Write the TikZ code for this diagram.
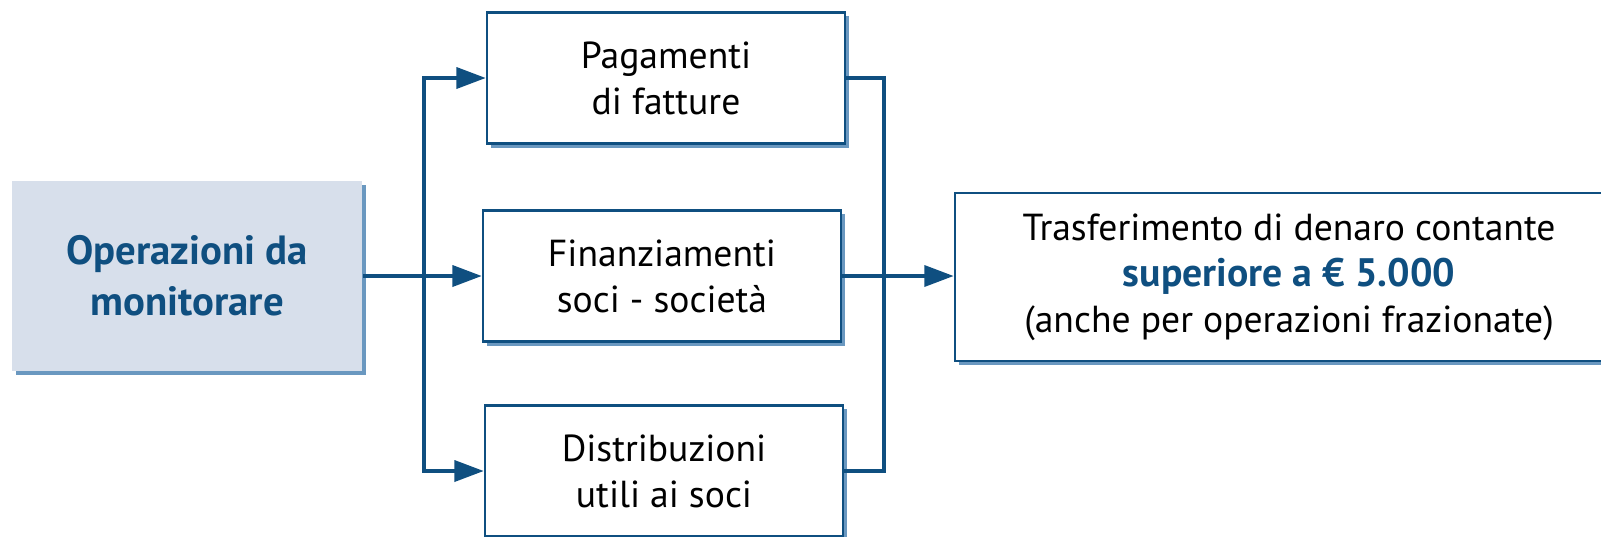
\documentclass[tikz,border=0pt]{standalone}
\usepackage{fontspec}
\setmainfont{PT Sans}
\usetikzlibrary{arrows.meta,shadows}
\definecolor{linkblue}{HTML}{0F4F80}
\definecolor{shadeblue}{HTML}{6A98C0}
\definecolor{srcfill}{HTML}{D7DFEB}

\begin{document}
\begin{tikzpicture}[
  x=0.01cm, y=-0.01cm,
  box/.style={rectangle, draw=linkblue, line width=0.7pt, fill=white, minimum width=3.58cm, minimum height=1.31cm, align=center,
    font=\fontsize{10.7pt}{13.1pt}\selectfont,
    drop shadow={shadow xshift=0.04cm, shadow yshift=-0.04cm, fill=shadeblue, opacity=1}},
  srcbox/.style={box, draw=none, fill=srcfill, minimum width=3.5cm, minimum height=1.9cm,
    font=\fontsize{11.6pt}{14.4pt}\selectfont\bfseries, text=linkblue},
  conn/.style={draw=linkblue, line width=0.9pt},
  flow/.style={conn, -{Triangle[length=8.3pt, width=6pt]}}
]
  \useasboundingbox (0,0) rectangle (1601,536);

  \node[srcbox] (source) at (187,276) {Operazioni da\\monitorare};
  \node[box] (invoices) at (666,78) {Pagamenti\\di fatture};
  \node[box] (loans) at (662,276) {Finanziamenti\\soci - società};
  \node[box] (dividends) at (664,471) {Distribuzioni\\utili ai soci};
  \node[box, minimum width=6.68cm, minimum height=1.68cm] (transfer) at (1289,277)
    {Trasferimento di denaro contante\\{\fontsize{11.3pt}{13.1pt}\selectfont\bfseries\color{linkblue}superiore a € 5.000}\\(anche per operazioni frazionate)};

  \coordinate (split) at (424,276);
  \coordinate (merge) at (884,276);

  % fan out
  \draw[conn] (source.east) -- (split);
  \draw[flow] (split) -- (loans.west);
  \draw[flow] (split) |- (invoices.west);
  \draw[flow] (split) |- (dividends.west);
  % gather
  \draw[conn] (invoices.east) -| (merge);
  \draw[conn] (dividends.east) -| (merge);
  \draw[conn] (loans.east) -- (merge);
  \draw[flow] (merge) -- (merge -| transfer.west);
\end{tikzpicture}
\end{document}
